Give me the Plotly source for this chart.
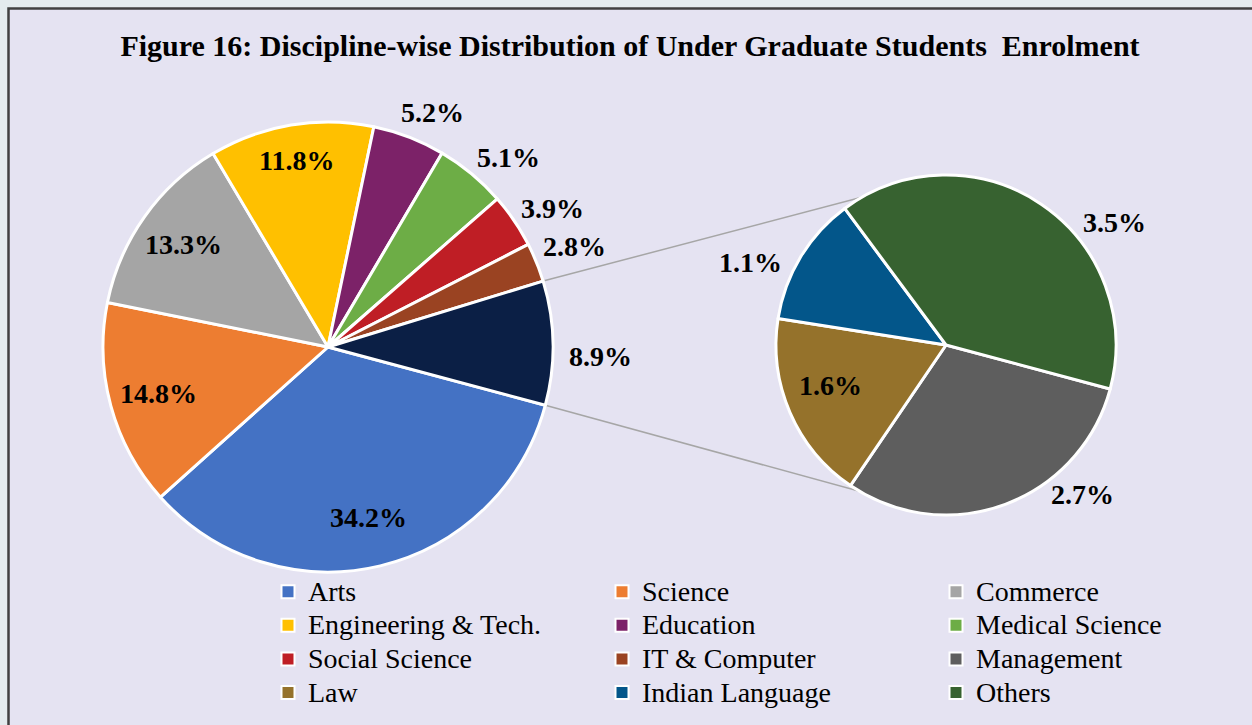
import math
import plotly.graph_objects as go

W, H = 1252, 725

# ---- data ----
main_labels = ["Arts", "Science", "Commerce", "Engineering & Tech.", "Education",
               "Medical Science", "Social Science", "IT & Computer", "Other disciplines"]
main_values = [34.2, 14.8, 13.3, 11.8, 5.2, 5.1, 3.9, 2.8, 8.9]
sub_labels = ["Management", "Law", "Indian Language", "Others"]
sub_values = [2.7, 1.6, 1.1, 3.5]
legend_labels = ["Arts", "Science", "Commerce", "Engineering & Tech.", "Education",
                 "Medical Science", "Social Science", "IT & Computer", "Management",
                 "Law", "Indian Language", "Others"]
title_text = "Figure 16: Discipline-wise Distribution of Under Graduate Students  Enrolment"

# ---- styles ----
color_map = {
    "Arts": "#4472C4", "Science": "#ED7D31", "Commerce": "#A5A5A5",
    "Engineering & Tech.": "#FFC000", "Education": "#7C2268", "Medical Science": "#6DAD46",
    "Social Science": "#BF1E25", "IT & Computer": "#9A4322", "Other disciplines": "#0B1F45",
    "Management": "#5E5E5E", "Law": "#95722B", "Indian Language": "#03568A", "Others": "#376230",
}
# label placement style: radial factor and angular nudge (deg) per slice
main_lab_f = [0.78, 0.78, 0.79, 0.84, 1.14, 1.165, 1.173, 1.184, 1.21]
main_lab_da = [0, 0, 0, 0, 3, 4, 2.6, 0, 3]
sub_lab_f = [1.19, 0.72, 1.25, 1.225]
sub_lab_da = [-22, 4.3, -8.3, 19.6]

FONT = "Liberation Serif, Times New Roman, serif"
BG_OUT = "#E4EBEE"
BG_IN = "#E5E3F2"
LABEL_SIZE = 28
LEGEND_TEXT_SIZE = 28
LEGEND_ROW_SIZE = 23.5

# pie geometry (pixels)
M_CX, M_CY, M_R = 328, 347, 225
S_CX, S_CY, S_R = 946, 345, 170
ROT_MAIN = 105
ROT_SUB = 105


def dom(cx, cy, r):
    return dict(x=[(cx - r) / W, (cx + r) / W], y=[1 - (cy + r) / H, 1 - (cy - r) / H])


fig = go.Figure()

fig.add_trace(go.Pie(
    labels=main_labels, values=main_values, sort=False, direction="clockwise",
    rotation=ROT_MAIN, domain=dom(M_CX, M_CY, M_R),
    marker=dict(colors=[color_map[l] for l in main_labels], line=dict(color="white", width=3)),
    textinfo="none", showlegend=False, hoverinfo="label+value",
))

fig.add_trace(go.Pie(
    labels=sub_labels, values=sub_values, sort=False, direction="clockwise",
    rotation=ROT_SUB, domain=dom(S_CX, S_CY, S_R),
    marker=dict(colors=[color_map[l] for l in sub_labels], line=dict(color="white", width=3)),
    textinfo="none", showlegend=False, hoverinfo="label+value",
))

for lab in legend_labels:
    fig.add_trace(go.Scatter(
        x=[None], y=[None], mode="markers",
        name=f'<span style="font-size:{LEGEND_TEXT_SIZE}px">{lab}</span>',
        marker=dict(symbol="square", size=13, color=color_map[lab], line=dict(color="white", width=2)),
    ))


def pt(cx, cy, r, deg):
    a = math.radians(deg)
    return cx + r * math.sin(a), cy - r * math.cos(a)


def slice_mids(values, rot):
    tot = sum(values)
    out, cum = [], 0.0
    for v in values:
        out.append(rot + (cum + v / 2) / tot * 360)
        cum += v
    return out


annotations = []
for vals, cx, cy, r, rot, fs, das in [
    (main_values, M_CX, M_CY, M_R, ROT_MAIN, main_lab_f, main_lab_da),
    (sub_values, S_CX, S_CY, S_R, ROT_SUB, sub_lab_f, sub_lab_da),
]:
    for v, mid, f, da in zip(vals, slice_mids(vals, rot), fs, das):
        x, y = pt(cx, cy, r * f, mid + da)
        annotations.append(dict(
            x=x / W, y=1 - y / H, xref="paper", yref="paper", showarrow=False,
            text=f"<b>{v:.1f}%</b>", xanchor="center", yanchor="middle",
            font=dict(family=FONT, size=LABEL_SIZE, color="black"),
        ))

# connector lines from the "other" slice edges to the secondary pie top/bottom
total = sum(main_values)
p_top = pt(M_CX, M_CY, M_R, ROT_MAIN - main_values[-1] / total * 360)
p_bot = pt(M_CX, M_CY, M_R, ROT_MAIN)
s_top = (S_CX, S_CY - S_R)
s_bot = (S_CX, S_CY + S_R)

shapes = [dict(type="rect", xref="paper", yref="paper", x0=8.5 / W, x1=1.05, y0=-0.05, y1=1 - 8.5 / H,
               fillcolor=BG_IN, line=dict(color="#404040", width=2.5), layer="below")]
for a, b in [(p_top, s_top), (p_bot, s_bot)]:
    shapes.append(dict(type="line", xref="paper", yref="paper",
                       x0=a[0] / W, y0=1 - a[1] / H, x1=b[0] / W, y1=1 - b[1] / H,
                       line=dict(color="#A6A6A6", width=1.5), layer="below"))

fig.update_layout(
    width=W, height=H,
    margin=dict(l=0, r=0, t=0, b=0, autoexpand=False),
    paper_bgcolor=BG_OUT, plot_bgcolor="rgba(0,0,0,0)",
    xaxis=dict(visible=False), yaxis=dict(visible=False),
    shapes=shapes, annotations=annotations,
    title=dict(text=f"<b>{title_text}</b>", x=630 / W, y=1 - 45 / H, xanchor="center", yanchor="middle",
               font=dict(family=FONT, size=30, color="black")),
    legend=dict(orientation="h", x=268 / W, y=1 - 570 / H, xanchor="left", yanchor="top",
                entrywidth=289, entrywidthmode="pixels", bgcolor="rgba(0,0,0,0)",
                font=dict(family=FONT, size=LEGEND_ROW_SIZE, color="black"), traceorder="normal"),
)

fig.write_html(
    "out.html",
    config={"displayModeBar": False},
    post_script=f"document.body.style.margin='0';document.body.style.backgroundColor='{BG_OUT}';",
)
